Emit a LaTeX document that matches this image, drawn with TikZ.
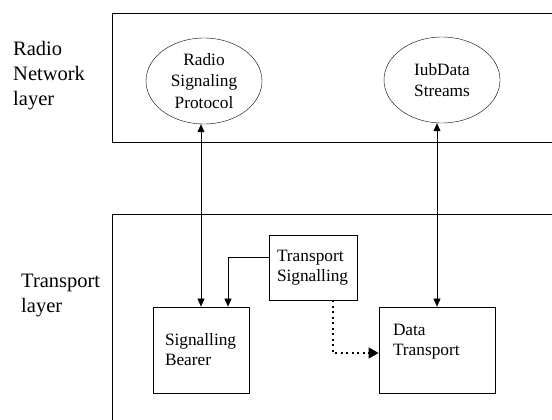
\documentclass[tikz,border=0pt]{standalone}
\usepackage{fontspec}
\setmainfont{Liberation Serif}
\usetikzlibrary{arrows.meta, shapes.geometric}
\tikzstyle{layer}=[draw=black, line width=0.8pt]
\tikzstyle{layertext}=[align=left, anchor=north west, inner sep=0pt, font=\fontsize{20.5}{25}\selectfont]
\tikzstyle{protocol}=[shape=ellipse, draw=black, minimum width=116pt, minimum height=86pt, inner sep=0pt, align=center, font=\fontsize{17.3}{21.5}\selectfont]
\tikzstyle{unit}=[shape=rectangle, draw=black, line width=0.8pt, align=left, inner ysep=0pt, font=\fontsize{17.3}{20}\selectfont]
\tikzstyle{l}=[draw, line width=0.6pt, -{Triangle[length=8pt,width=7pt]}]
\tikzstyle{ll}=[draw, line width=0.6pt, {Triangle[length=8pt,width=7pt]}-{Triangle[length=8pt,width=7pt]}]
\tikzstyle{dots}=[draw, line width=1.6pt, dash pattern=on 2pt off 3.5pt, -{Triangle[length=10pt,width=11pt]}]

\begin{document}
\begin{tikzpicture}[x=1pt, y=-1pt]
\useasboundingbox (0,0) rectangle (552,420);

% layers
\draw[layer] (112,13) rectangle (565,142);
\draw[layer] (112,214) rectangle (565,440);
\node[layertext] (radiolayer) at (13,41) {Radio\\Network\\layer};
\node[layertext] (translayer) at (21,273.5) {Transport\\layer};

% radio network layer
\node[protocol] (rsp) at (204,81) {Radio\\Signaling\\Protocol};
\node[protocol] (iub) at (442,80) {IubData\\Streams};

% transport layer
\node[unit, text width=72pt, inner xsep=12pt, minimum height=86pt] (sb) at (201,350) {Signalling\\Bearer};
\node[unit, text width=72pt, inner xsep=8pt, minimum height=65pt] (ts) at (313,267.5) {Transport\\Signalling};
\node[unit, text width=88pt, inner xsep=14pt, minimum height=86pt, text depth=40pt] (dt) at (437,350) {Data\\Transport};

% paths
\path [ll] (sb.north) -- (sb.north |- rsp.south);
\path [ll] (dt.north) -- (dt.north |- iub.south);
\path [l] ([yshift=10pt]ts.west) -| ([xshift=27pt]sb.north);
\path [dots] ([xshift=20pt]ts.south) |- ([yshift=-3pt]dt.west);

\end{tikzpicture}
\end{document}
